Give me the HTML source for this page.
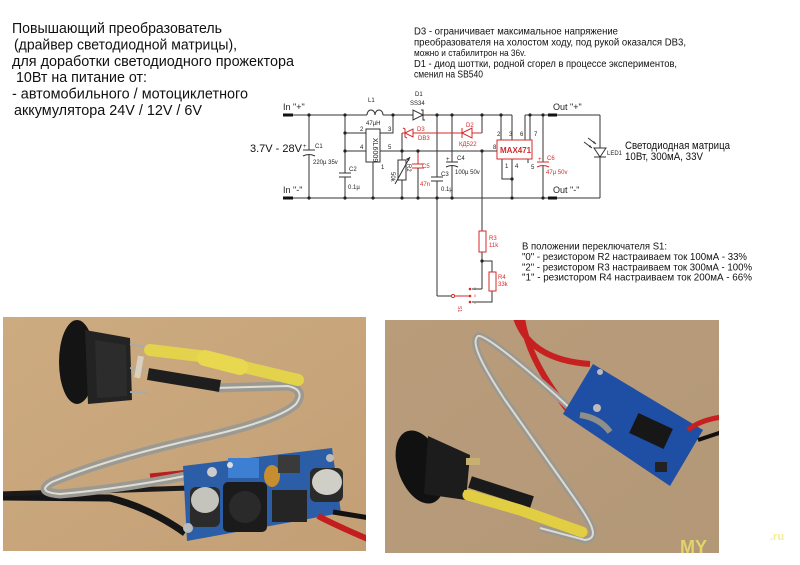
<!DOCTYPE html>
<html><head><meta charset="utf-8">
<style>
html,body{margin:0;padding:0;background:#fff;}
svg{display:block;}
text{font-family:"Liberation Sans",Arial,sans-serif;}
</style></head>
<body>
<svg width="800" height="565" viewBox="0 0 800 565" xmlns="http://www.w3.org/2000/svg">
<rect width="800" height="565" fill="#fff"/>

<!-- ===== Top-left title text ===== -->
<g font-size="15" fill="#111">
<text x="12" y="33" textLength="210" lengthAdjust="spacingAndGlyphs">Повышающий преобразователь</text>
<text x="14" y="49.5" textLength="223" lengthAdjust="spacingAndGlyphs">(драйвер светодиодной матрицы),</text>
<text x="12" y="66" textLength="282" lengthAdjust="spacingAndGlyphs">для доработки светодиодного прожектора</text>
<text x="16" y="82" textLength="131" lengthAdjust="spacingAndGlyphs">10Вт на питание от:</text>
<text x="12" y="98.5" textLength="236" lengthAdjust="spacingAndGlyphs">- автомобильного / мотоциклетного</text>
<text x="14" y="115" textLength="188" lengthAdjust="spacingAndGlyphs">аккумулятора 24V / 12V / 6V</text>
</g>

<!-- ===== Top-right notes ===== -->
<g font-size="10" fill="#111">
<text x="414" y="34.5" textLength="204" lengthAdjust="spacingAndGlyphs">D3 - ограничивает максимальное напряжение</text>
<text x="414" y="45.5" textLength="272" lengthAdjust="spacingAndGlyphs">преобразователя на холостом ходу, под рукой оказался DB3,</text>
<text x="414" y="56.2" textLength="112" lengthAdjust="spacingAndGlyphs" font-size="9.5">можно и стабилитрон на 36v.</text>
<text x="414" y="67" textLength="263" lengthAdjust="spacingAndGlyphs">D1 - диод шоттки, родной сгорел в процессе экспериментов,</text>
<text x="414" y="77.7" textLength="69" lengthAdjust="spacingAndGlyphs">сменил на SB540</text>
</g>

<!-- ===== Schematic ===== -->
<g stroke="#333" stroke-width="1" fill="none">
  <line x1="283" y1="115" x2="367" y2="115"/>
  <line x1="387" y1="115" x2="413" y2="115"/>
  <line x1="423" y1="115" x2="512" y2="115"/>
  <line x1="525" y1="115" x2="600" y2="115"/>
  <line x1="283" y1="198" x2="600" y2="198"/>
  <line x1="600" y1="115" x2="600" y2="148"/>
  <line x1="600" y1="157" x2="600" y2="198"/>
  <!-- C1 -->
  <line x1="309" y1="115" x2="309" y2="150"/>
  <line x1="309" y1="155" x2="309" y2="198"/>
  <line x1="303" y1="150" x2="315" y2="150"/>
  <path d="M303,156 Q309,153 315,156"/>
  <!-- x=345 column + C2 -->
  <line x1="345" y1="115" x2="345" y2="173"/>
  <line x1="345" y1="177" x2="345" y2="198"/>
  <line x1="339" y1="173" x2="351" y2="173"/>
  <line x1="339" y1="177" x2="351" y2="177"/>
  <line x1="345" y1="133" x2="366" y2="133"/>
  <line x1="345" y1="151" x2="366" y2="151"/>
  <!-- XL6009 -->
  <rect x="366" y="129" width="14" height="33"/>
  <polyline points="380,133 393,133 393,115"/>
  <line x1="380" y1="151" x2="497" y2="151"/>
  <line x1="373" y1="162" x2="373" y2="198"/>
  <!-- R2 -->
  <line x1="402" y1="133" x2="402" y2="160"/>
  <rect x="398" y="160" width="8" height="20"/>
  <line x1="402" y1="180" x2="402" y2="198"/>
  <line x1="395" y1="184" x2="410" y2="157"/>
  <!-- C3 -->
  <line x1="437" y1="115" x2="437" y2="177"/>
  <line x1="431" y1="177" x2="443" y2="177"/>
  <line x1="431" y1="181" x2="443" y2="181"/>
  <line x1="437" y1="181" x2="437" y2="296"/>
  <line x1="437" y1="296" x2="451" y2="296"/>
  <!-- C4 -->
  <line x1="452" y1="115" x2="452" y2="162"/>
  <line x1="446" y1="162" x2="458" y2="162"/>
  <path d="M446,167 Q452,164 458,167"/>
  <line x1="452" y1="166" x2="452" y2="198"/>
  <!-- x=482 -->
  <line x1="482" y1="115" x2="482" y2="133"/>
  <line x1="482" y1="151" x2="482" y2="231"/>
  <line x1="482" y1="252" x2="482" y2="289"/>
  <line x1="482" y1="289" x2="472" y2="289"/>
  <polyline points="482,261 492,261 492,272"/>
  <polyline points="492,291 492,302 472,302"/>
  <!-- MAX471 pins -->
  <line x1="501" y1="115" x2="501" y2="140"/>
  <line x1="512" y1="115" x2="512" y2="140"/>
  <line x1="525" y1="115" x2="525" y2="140"/>
  <line x1="530" y1="115" x2="530" y2="140"/>
  <polyline points="502,159 502,179 512,179"/>
  <line x1="512" y1="159" x2="512" y2="198"/>
  <line x1="528" y1="159" x2="528" y2="163"/>
  <!-- C6 wires -->
  <line x1="543" y1="115" x2="543" y2="162"/>
  <line x1="543" y1="166" x2="543" y2="198"/>
  <!-- LED arrows -->
  <line x1="584" y1="142" x2="592" y2="148"/>
  <line x1="588" y1="138" x2="596" y2="144"/>
</g>
<!-- inductor humps -->
<path d="M367,115 a4,5 0 0 1 8,0 a4,5 0 0 1 8,0 M383,115 l4,0" stroke="#333" fill="none"/>
<!-- D1 -->
<polygon points="413,110 413,120 423,115" fill="none" stroke="#333"/>
<polyline points="421,110 423,110 423,120 425,120" fill="none" stroke="#333"/>
<!-- LED -->
<polygon points="594,148 606,148 600,157" fill="none" stroke="#333"/>
<line x1="594" y1="157" x2="606" y2="157" stroke="#333"/>
<polygon points="592,148 589,147 590,145" fill="#333"/>
<polygon points="596,144 593,143 594,141" fill="#333"/>
<!-- arrow on R2 -->
<polygon points="410,157 406,159 409,161" fill="#333"/>

<!-- red components -->
<g stroke="#d42a2a" fill="none" stroke-width="1">
  <line x1="402" y1="133" x2="405" y2="133"/>
  <polygon points="405,133 413,129 413,137"/>
  <polyline points="403,128 405,129 405,137 407,138"/>
  <line x1="413" y1="133" x2="462" y2="133"/>
  <polygon points="462,133 472,128 472,138"/>
  <line x1="462" y1="128" x2="462" y2="138"/>
  <line x1="472" y1="133" x2="482" y2="133"/>
  <!-- C5 -->
  <line x1="418" y1="151" x2="418" y2="164"/>
  <line x1="412" y1="164" x2="424" y2="164"/>
  <line x1="412" y1="168" x2="424" y2="168"/>
  <line x1="418" y1="168" x2="418" y2="198" stroke="#333"/>
  <!-- MAX471 -->
  <rect x="497" y="140" width="35" height="19"/>
  <!-- C6 -->
  <line x1="537" y1="162" x2="549" y2="162"/>
  <path d="M537,167 Q543,164 549,167"/>
  <!-- R3 R4 -->
  <rect x="479" y="231" width="7" height="21"/>
  <rect x="489" y="272" width="7" height="19"/>
  <!-- switch -->
  <circle cx="453" cy="296" r="1.6"/>
  <line x1="455" y1="296" x2="470" y2="296"/>
</g>
<g fill="#d42a2a">
  <circle cx="470" cy="289" r="1.3"/>
  <circle cx="470" cy="296" r="1.3"/>
  <circle cx="470" cy="302" r="1.3"/>
</g>

<!-- junction dots -->
<g fill="#222">
  <circle cx="309" cy="115" r="1.6"/><circle cx="345" cy="115" r="1.6"/><circle cx="393" cy="115" r="1.6"/>
  <circle cx="437" cy="115" r="1.6"/><circle cx="452" cy="115" r="1.6"/><circle cx="482" cy="115" r="1.6"/>
  <circle cx="501" cy="115" r="1.6"/><circle cx="530" cy="115" r="1.6"/><circle cx="543" cy="115" r="1.6"/>
  <circle cx="309" cy="198" r="1.6"/><circle cx="345" cy="198" r="1.6"/><circle cx="373" cy="198" r="1.6"/>
  <circle cx="402" cy="198" r="1.6"/><circle cx="418" cy="198" r="1.6"/><circle cx="437" cy="198" r="1.6"/>
  <circle cx="452" cy="198" r="1.6"/><circle cx="512" cy="198" r="1.6"/><circle cx="543" cy="198" r="1.6"/>
  <circle cx="345" cy="133" r="1.6"/><circle cx="345" cy="151" r="1.6"/>
  <circle cx="402" cy="151" r="1.6"/><circle cx="418" cy="151" r="1.6"/><circle cx="482" cy="151" r="1.6"/>
  <circle cx="512" cy="179" r="1.6"/><circle cx="482" cy="261" r="1.6"/>
</g>
<!-- terminals -->
<g stroke="#111" stroke-width="3">
  <line x1="283" y1="115" x2="293" y2="115"/>
  <line x1="283" y1="198" x2="293" y2="198"/>
  <line x1="548" y1="115" x2="557" y2="115"/>
  <line x1="548" y1="198" x2="557" y2="198"/>
</g>

<!-- schematic labels -->
<g fill="#222" font-size="9">
  <text x="283" y="110">In "+"</text>
  <text x="283" y="193">In "-"</text>
  <text x="553" y="110">Out "+"</text>
  <text x="553" y="193">Out "-"</text>
</g>
<text x="250" y="152" font-size="11" fill="#111">3.7V - 28V</text>
<g fill="#222" font-size="6">
  <text x="315" y="148">C1</text>
  <text x="313" y="164">220µ 35v</text>
  <text x="349" y="171">C2</text>
  <text x="348" y="189">0.1µ</text>
  <text x="368" y="102">L1</text>
  <text x="366" y="125">47µH</text>
  <text x="415" y="96">D1</text>
  <text x="410" y="105">SS34</text>
  <text x="360" y="131">2</text>
  <text x="360" y="149">4</text>
  <text x="388" y="131">3</text>
  <text x="388" y="149">5</text>
  <text x="381" y="169">1</text>
  <text x="441" y="176">C3</text>
  <text x="441" y="191">0.1µ</text>
  <text x="457" y="160">C4</text>
  <text x="455" y="174">100µ 50v</text>
  <text x="446" y="161">+</text>
  <text x="303" y="148">+</text>
  <text x="497" y="136">2</text>
  <text x="509" y="136">3</text>
  <text x="520" y="136">6</text>
  <text x="534" y="136">7</text>
  <text x="493" y="149">8</text>
  <text x="505" y="168">1</text>
  <text x="515" y="168">4</text>
  <text x="531" y="169">5</text>
  <text x="607" y="155">LED1</text>
  <text x="0" y="0" transform="translate(391,172) rotate(90)">50k</text>
  <text x="0" y="0" transform="translate(407,164) rotate(90)">R2</text>
  <text x="0" y="0" transform="translate(373,138) rotate(90)" font-size="7">XL6009</text>
</g>
<g fill="#d42a2a" font-size="6">
  <text x="417" y="131">D3</text>
  <text x="418" y="140">DB3</text>
  <text x="466" y="127">D2</text>
  <text x="459" y="146">КД522</text>
  <text x="422" y="168">C5</text>
  <text x="420" y="186">47n</text>
  <text x="547" y="160">C6</text>
  <text x="546" y="174">47µ 50v</text>
  <text x="538" y="161">+</text>
  <text x="489" y="240">R3</text>
  <text x="489" y="247">11k</text>
  <text x="498" y="279">R4</text>
  <text x="498" y="286">33k</text>
  <text x="0" y="0" transform="translate(458,306) rotate(90)" font-size="5">S1</text>
  <text x="474" y="290" font-size="3.5">2</text>
  <text x="474" y="297" font-size="3.5">0</text>
  <text x="474" y="304" font-size="3.5">1</text>
</g>
<text x="500" y="153" font-size="8" fill="#d42a2a" font-weight="bold">MAX471</text>

<g font-size="11" fill="#111">
  <text x="625" y="149" textLength="105" lengthAdjust="spacingAndGlyphs">Светодиодная матрица</text>
  <text x="625" y="160" textLength="78" lengthAdjust="spacingAndGlyphs">10Вт, 300мА, 33V</text>
</g>

<g font-size="10.5" fill="#111">
  <text x="522" y="249.5" textLength="145" lengthAdjust="spacingAndGlyphs">В положении переключателя S1:</text>
  <text x="522" y="260" textLength="225" lengthAdjust="spacingAndGlyphs">"0" - резистором R2 настраиваем ток 100мА - 33%</text>
  <text x="522" y="270.3" textLength="230" lengthAdjust="spacingAndGlyphs">"2" - резистором R3 настраиваем ток 300мА - 100%</text>
  <text x="522" y="280.6" textLength="230" lengthAdjust="spacingAndGlyphs">"1" - резистором R4 настраиваем ток 200мА - 66%</text>
</g>

<!-- ===== Photos ===== -->
<defs>
  <linearGradient id="lg1" x1="0" y1="0" x2="1" y2="1">
    <stop offset="0" stop-color="#cdab80"/>
    <stop offset="1" stop-color="#c39f76"/>
  </linearGradient>
  <linearGradient id="lg2" x1="0" y1="0" x2="1" y2="1">
    <stop offset="0" stop-color="#b99c7a"/>
    <stop offset="1" stop-color="#b39878"/>
  </linearGradient>
  <clipPath id="c1"><rect x="3" y="317" width="363" height="234"/></clipPath>
  <clipPath id="c2"><rect x="385" y="320" width="334" height="233"/></clipPath>
</defs>
<g clip-path="url(#c1)">
  <rect x="3" y="317" width="363" height="234" fill="url(#lg1)"/>
  <path d="M0,497 L110,498 Q150,508 185,533" stroke="#151515" stroke-width="7" fill="none"/>
  <path d="M0,494 L190,488" stroke="#1a1a1a" stroke-width="5" fill="none"/>
  <path d="M150,476 L190,472" stroke="#b82020" stroke-width="5" fill="none"/>
  <path d="M215,388 L288,386 Q306,390 296,404 Q280,420 200,438 Q110,458 52,482 Q35,492 60,494 Q130,488 215,470" stroke="#9b9a92" stroke-width="9" fill="none"/>
  <path d="M215,388 L288,386 Q306,390 296,404 Q280,420 200,438 Q110,458 52,482 Q35,492 60,494 Q130,488 215,470" stroke="#e0ded6" stroke-width="2" fill="none"/>
  <ellipse cx="77" cy="362" rx="18" ry="42" fill="#141414"/>
  <polygon points="85,330 130,338 132,400 88,404" fill="#232323"/>
  <polygon points="95,340 126,345 127,396 97,398" fill="#2c2c2c"/>
  <line x1="130" y1="344" x2="150" y2="348" stroke="#aaa" stroke-width="2"/>
  <line x1="130" y1="368" x2="145" y2="370" stroke="#aaa" stroke-width="2"/>
  <line x1="130" y1="392" x2="148" y2="393" stroke="#aaa" stroke-width="2"/>
  <rect x="136" y="356" width="6" height="22" fill="#d8d0c0" transform="rotate(10 139 367)"/>
  <path d="M148,374 L220,386" stroke="#1e1e1e" stroke-width="12" fill="none"/>
  <path d="M150,350 L200,356 L240,366 L298,380" stroke="#e3d24c" stroke-width="12" fill="none" stroke-linecap="round"/>
  <path d="M205,358 L240,367" stroke="#e8d850" stroke-width="16" fill="none" stroke-linecap="round"/>
  <polygon points="183,466 332,448 341,513 187,541" fill="#2c5ea8"/>
  <rect x="228" y="458" width="31" height="20" fill="#3d7fd2"/>
  <circle cx="230" cy="465" r="3" fill="#ddd"/>
  <ellipse cx="272" cy="476" rx="8" ry="11" fill="#c68e2e"/>
  <rect x="278" y="455" width="22" height="18" fill="#3a3a3a"/>
  <rect x="190" y="487" width="30" height="40" rx="6" fill="#2b2b2b"/>
  <ellipse cx="205" cy="500" rx="14" ry="13" fill="#c4c4bc"/>
  <rect x="223" y="482" width="44" height="50" rx="5" fill="#1b1b1b"/>
  <circle cx="245" cy="507" r="16" fill="#2a2a2a"/>
  <rect x="272" y="490" width="35" height="32" fill="#252525"/>
  <rect x="310" y="468" width="33" height="34" rx="6" fill="#2a2a2a"/>
  <ellipse cx="327" cy="482" rx="15" ry="13" fill="#cfcfc8"/>
  <circle cx="188" cy="528" r="5" fill="#bbb"/>
  <circle cx="330" cy="458" r="4" fill="#bbb"/>
  <circle cx="212" cy="472" r="5" fill="#ccc"/>
  <path d="M318,516 Q335,525 370,540" stroke="#c21e1e" stroke-width="6" fill="none"/>
  <path d="M333,512 L370,518" stroke="#121212" stroke-width="5" fill="none"/>
</g>

<g clip-path="url(#c2)">
  <rect x="385" y="320" width="334" height="233" fill="url(#lg2)"/>
  <path d="M516,318 Q530,360 590,364" stroke="#c62020" stroke-width="6" fill="none"/>
  <path d="M522,318 Q528,360 568,410" stroke="#c62020" stroke-width="6" fill="none"/>
  <path d="M572,410 C540,380 485,333 478,336 C470,342 482,365 505,400 L565,485 C590,520 602,538 585,540 L540,528" stroke="#9a9991" stroke-width="7" fill="none"/>
  <path d="M572,410 C540,380 485,333 478,336 C470,342 482,365 505,400 L565,485 C590,520 602,538 585,540 L540,528" stroke="#dcdad2" stroke-width="2" fill="none"/>
  <polygon points="593,364 703,430 670,486 563,414" fill="#1f4fa4"/>
  <rect x="632" y="420" width="38" height="22" fill="#171717" transform="rotate(25 651 431)"/>
  <path d="M580,415 Q600,418 610,432" stroke="#8f8e88" stroke-width="6" fill="none"/>
  <rect x="655" y="462" width="12" height="10" fill="#222"/>
  <circle cx="597" cy="408" r="4" fill="#bbb"/>
  <circle cx="600" cy="372" r="3" fill="#bbb"/>
  <path d="M688,430 Q700,420 722,417" stroke="#c62020" stroke-width="5" fill="none"/>
  <path d="M698,440 L722,432" stroke="#111" stroke-width="4" fill="none"/>
  <ellipse cx="420" cy="467" rx="22" ry="38" fill="#111" transform="rotate(-20 420 467)"/>
  <polygon points="428,436 470,455 466,500 424,494" fill="#1c1c1c"/>
  <rect x="466" y="458" width="14" height="7" fill="#c8b070"/>
  <rect x="464" y="490" width="12" height="7" fill="#c8b070"/>
  <path d="M470,482 L532,502" stroke="#1a1a1a" stroke-width="12" fill="none"/>
  <path d="M468,495 L520,510 L582,532" stroke="#e1ce42" stroke-width="11" fill="none" stroke-linecap="round"/>
  <text x="680" y="553" font-size="18" font-weight="bold" fill="#e8df6a" fill-opacity="0.85">MY</text>
</g>
<text x="770" y="540" font-size="11" font-weight="bold" fill="#f2ee9a">.ru</text>
</svg>
</body></html>
